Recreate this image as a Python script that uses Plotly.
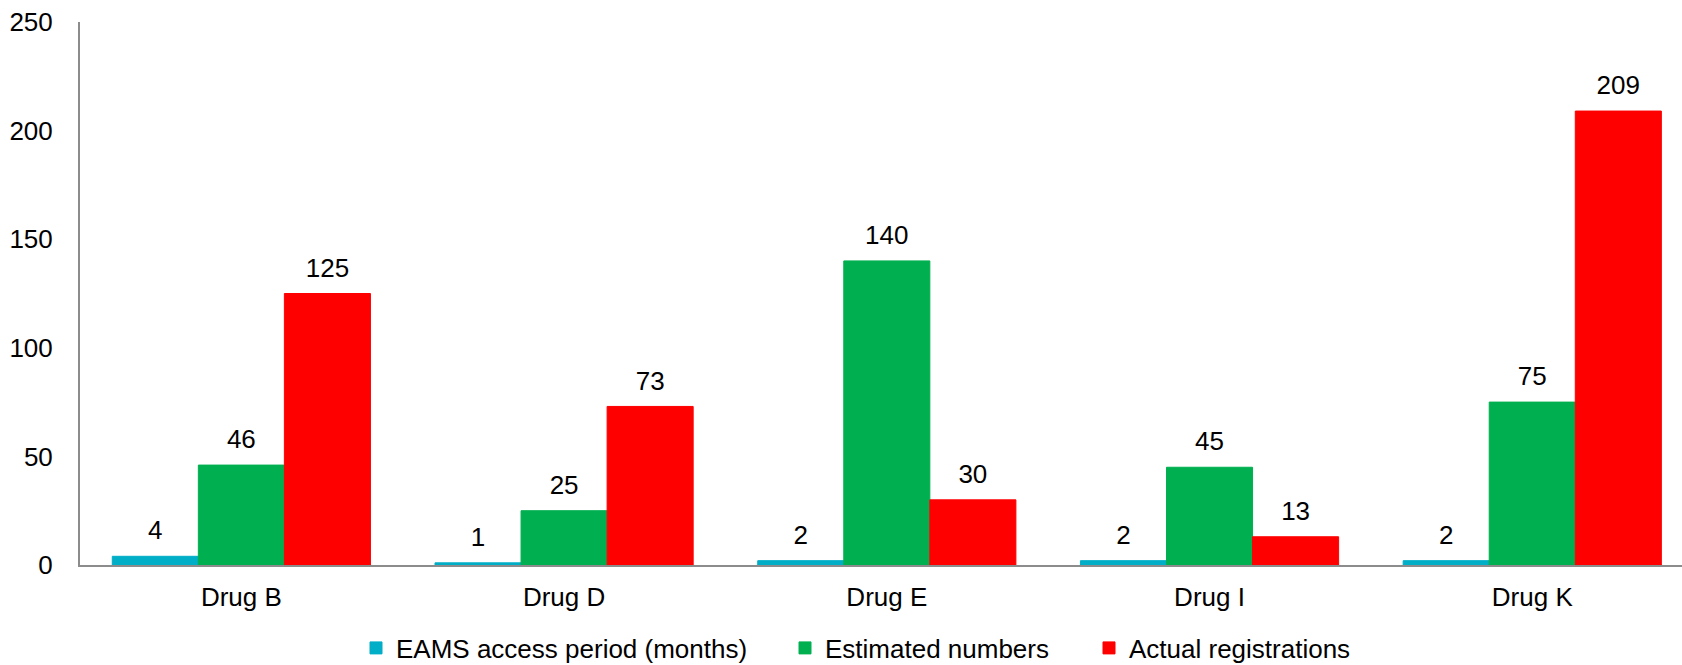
import plotly.graph_objects as go

# Chart data
drugs = ["Drug B", "Drug D", "Drug E", "Drug I", "Drug K"]
series_names = ["EAMS access period (months)", "Estimated numbers", "Actual registrations"]
eams_months = [4, 1, 2, 2, 2]
estimated = [46, 25, 140, 45, 75]
actual = [125, 73, 30, 13, 209]
y_ticks = [0, 50, 100, 150, 200, 250]

colors = ["#00AEC7", "#00B050", "#FF0000"]
series_values = [eams_months, estimated, actual]
legend_widths = [384, 259, None]

FONT = "Liberation Sans, Arial, sans-serif"
FS = 26

fig = go.Figure()

for name, vals, col, lw in zip(series_names, series_values, colors, legend_widths):
    fig.add_trace(go.Bar(
        name=name, x=drugs, y=vals,
        marker=dict(color=col, line=dict(width=1, color=col)),
        legendwidth=lw,
        hoverinfo="x+y",
    ))

# Value labels, grouped to sit above their bars
for name, vals in zip(series_names, series_values):
    fig.add_trace(go.Scatter(
        x=drugs, y=vals, text=[str(v) for v in vals],
        mode="markers+text", textposition="top center",
        marker=dict(size=15, color="rgba(0,0,0,0)"),
        textfont=dict(family=FONT, size=FS, color="#000000"),
        showlegend=False, hoverinfo="skip", cliponaxis=False,
    ))

fig.update_layout(
    width=1682, height=665,
    margin=dict(l=80, r=0, t=22, b=100, pad=0),
    paper_bgcolor="white", plot_bgcolor="white",
    font=dict(family=FONT, size=FS, color="#000000"),
    barmode="group", bargap=0.2, bargroupgap=0,
    scattermode="group", scattergap=0.2,
    showlegend=True,
    legend=dict(
        orientation="h", xref="container", yref="container",
        x=356 / 1682, xanchor="left", y=1 - 648 / 665, yanchor="middle",
        font=dict(family=FONT, size=FS, color="#000000"),
        bgcolor="rgba(0,0,0,0)", borderwidth=0,
        traceorder="normal",
    ),
    xaxis=dict(
        range=[-0.5, 4.464], showline=True, linecolor="#8C8C8C", linewidth=2,
        ticks="", showgrid=False, zeroline=False, fixedrange=True,
        ticklabelstandoff=8,
    ),
    yaxis=dict(
        range=[0, 250], tickvals=y_ticks, showline=True, linecolor="#8C8C8C",
        linewidth=2, ticks="", showgrid=False, zeroline=False,
        ticklabelstandoff=20,
    ),
)

fig.write_html("out.html")
